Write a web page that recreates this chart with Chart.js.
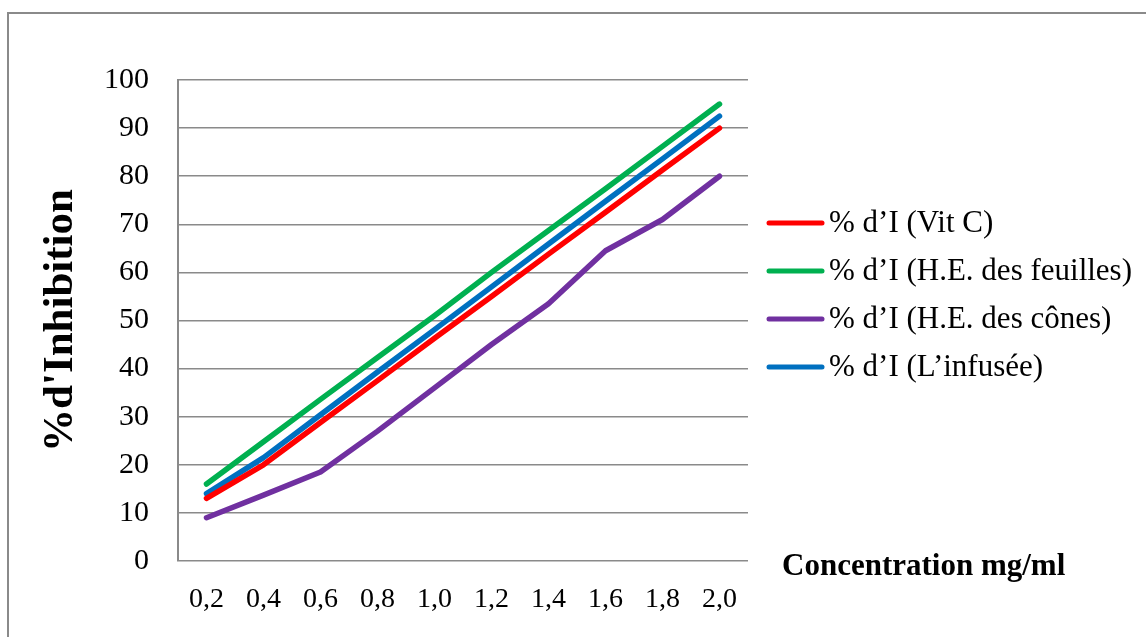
<!DOCTYPE html>
<html>
<head>
<meta charset="utf-8">
<script src="https://cdn.jsdelivr.net/npm/chart.js@4"></script>
<style>
  body { margin: 0; background: #fff; }
  canvas { display: block; }
</style>
</head>
<body>
<canvas id="chart" width="1146" height="637"></canvas>
<script>
// concentrations (mg/ml) and % inhibition
const concentrations = ['0,2', '0,4', '0,6', '0,8', '1,0', '1,2', '1,4', '1,6', '1,8', '2,0'];
const vitC = [13, 20, 28.8, 37.5, 46.3, 55, 63.8, 72.5, 81.3, 90];
const heFeuilles = [16, 24.8, 33.6, 42.3, 51, 60, 68.7, 77.4, 86.2, 95];
const heCones = [9, 13.7, 18.5, 27, 36, 45, 53.5, 64.5, 71, 80];
const infusee = [14, 21.5, 30.4, 39.3, 48.1, 57, 65.9, 74.8, 83.6, 92.5];

const seriesNames = ['% d\u2019I (Vit C)', '% d\u2019I (H.E. des feuilles)', '% d\u2019I (H.E. des c\u00f4nes)', '% d\u2019I (L\u2019infus\u00e9e)'];
const seriesColors = ['#ff0000', '#00b050', '#7030a0', '#0070c0'];
const yTicks = [0, 10, 20, 30, 40, 50, 60, 70, 80, 90, 100];

const serif = "'Liberation Serif', 'Times New Roman', serif";
const gray = '#8a8a8a';

function makeLine(i, values) {
    return {
        label: seriesNames[i],
        data: values,
        borderColor: seriesColors[i],
        backgroundColor: seriesColors[i],
        borderWidth: 5.5,
        borderCapStyle: 'round',
        borderJoinStyle: 'round',
        pointRadius: 0,
        tension: 0
    };
}

// frame, legend and the x title sitting right of the plot
const extras = {
    id: 'extras',
    beforeDraw(chart) {
        const ctx = chart.ctx;
        ctx.save();
        ctx.strokeStyle = gray;
        ctx.lineWidth = 2;
        ctx.strokeRect(8, 13, 1300, 800);
        ctx.restore();
    },
    afterDraw(chart) {
        const { ctx, chartArea } = chart;
        ctx.save();
        ctx.font = '31px ' + serif;
        ctx.textBaseline = 'middle';
        ctx.textAlign = 'left';
        chart.data.datasets.forEach((ds, i) => {
            const y = 223 + i * 48;
            const x0 = chartArea.right + 21;
            ctx.strokeStyle = ds.borderColor;
            ctx.lineWidth = 5;
            ctx.lineCap = 'round';
            ctx.beginPath();
            ctx.moveTo(x0, y);
            ctx.lineTo(x0 + 53, y);
            ctx.stroke();
            ctx.fillStyle = '#000';
            ctx.fillText(ds.label, x0 + 60, y + 1);
        });
        ctx.font = 'bold 31px ' + serif;
        ctx.fillText('Concentration mg/ml', chartArea.right + 34, chartArea.bottom + 6);
        ctx.restore();
    }
};

new Chart(document.getElementById('chart'), {
    type: 'line',
    data: {
        labels: concentrations,
        datasets: [
            makeLine(0, vitC),
            makeLine(1, heFeuilles),
            makeLine(2, heCones),
            makeLine(3, infusee)
        ]
    },
    options: {
        responsive: false,
        animation: false,
        devicePixelRatio: 1,
        layout: { padding: { left: 0, top: 80, right: 398, bottom: 0 } },
        plugins: {
            legend: { display: false },
            tooltip: { enabled: false }
        },
        scales: {
            x: {
                offset: true,
                grid: { display: false, drawTicks: false },
                border: { display: false },
                ticks: { color: '#000', padding: 22, maxRotation: 0, autoSkip: false, font: { family: serif, size: 28 } },
                afterFit(scale) { scale.height = 76; }
            },
            y: {
                min: 0,
                max: 100,
                afterBuildTicks(scale) { scale.ticks = yTicks.map(v => ({ value: v })); },
                grid: { color: gray, lineWidth: 1.5, drawTicks: false },
                border: { display: true, color: gray, width: 2 },
                ticks: { color: '#000', padding: 29, font: { family: serif, size: 30 } },
                title: {
                    display: true,
                    text: "%d'Inhibition",
                    color: '#000',
                    padding: { top: 35, bottom: 0 },
                    font: { family: serif, size: 43, weight: 'bold' }
                },
                afterFit(scale) { scale.width = 178; }
            }
        }
    },
    plugins: [extras]
});
</script>
</body>
</html>
